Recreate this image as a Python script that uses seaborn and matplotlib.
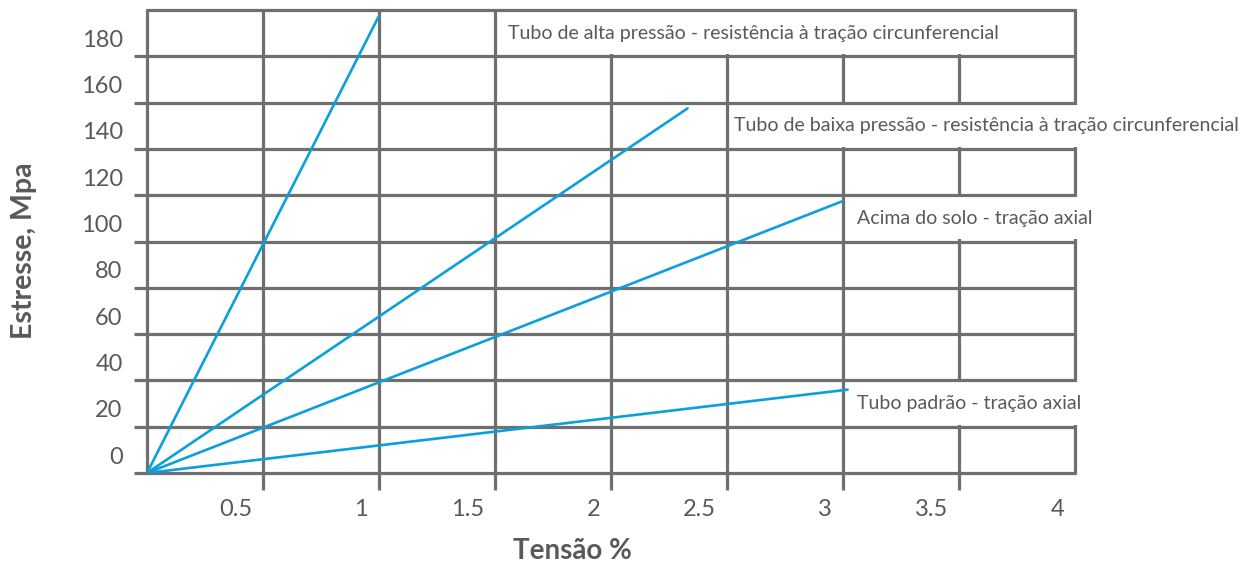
import numpy as np
import pandas as pd
import matplotlib
matplotlib.use("Agg")
import matplotlib.pyplot as plt
from matplotlib.patches import Rectangle
from matplotlib.transforms import ScaledTranslation
import seaborn as sns

# ---------------- data ----------------
series_names = [
    "Tubo de alta pressão - resistência à tração circunferencial",
    "Tubo de baixa pressão - resistência à tração circunferencial",
    "Acima do solo - tração axial",
    "Tubo padrão - tração axial",
]
strain_alta = [0.0, 1.0]
stress_alta = [0.0, 197.5]
strain_baixa = [0.0, 2.33]
stress_baixa = [0.0, 157.5]
strain_solo = [0.0, 3.0]
stress_solo = [0.0, 117.5]
strain_padrao = [0.0, 3.02]
stress_padrao = [0.0, 36.0]

x_ticks = [0.5, 1, 1.5, 2, 2.5, 3, 3.5, 4]
x_tick_labels = ["0.5", "1", "1.5", "2", "2.5", "3", "3.5", "4"]
y_ticks = [0, 20, 40, 60, 80, 100, 120, 140, 160, 180]
y_tick_labels = ["0", "20", "40", "60", "80", "100", "120", "140", "160", "180"]
x_label = "Tensão %"
y_label = "Estresse, Mpa"

# ---------------- layout (annotation placement) ----------------
label_x = [1.555, 2.53, 3.06, 3.06]          # text start
label_row = [180, 140, 100, 20]               # grid row that holds the label
box_x = [(1.5, 4.0), (2.5, 4.8), (3.0, 4.3), (3.0, 4.3)]

GRID = "#6f6f6f"
TXT = "#595959"
BLUE = "#0aa0dc"

sns.set_theme(style="white")
plt.rcParams["font.family"] = ["Lato", "DejaVu Sans"]

frames = []
for name, xs, ys in zip(series_names,
                        [strain_alta, strain_baixa, strain_solo, strain_padrao],
                        [stress_alta, stress_baixa, stress_solo, stress_padrao]):
    frames.append(pd.DataFrame({"serie": name, "tensao": xs, "estresse": ys}))
df = pd.concat(frames, ignore_index=True)

fig = plt.figure(figsize=(12.47, 5.66), dpi=100)
ax = fig.add_axes([147 / 1247, 93 / 566, (1075 - 147) / 1247, (473 - 10) / 566])

sns.lineplot(data=df, x="tensao", y="estresse", hue="serie",
             palette={n: BLUE for n in series_names}, estimator=None,
             sort=False, legend=False, linewidth=1.9, ax=ax, zorder=5)

ax.set_xlim(0, 4)
ax.set_ylim(0, 200)
for s in ax.spines.values():
    s.set_visible(False)
ax.grid(False)

# grid: vertical lines first, white label boxes, then horizontal lines
for xv in [0] + x_ticks:
    ax.axvline(xv, color=GRID, lw=2.3, zorder=1, clip_on=False)
dy = 0.9
dx = 0.017
for (x0, x1), r in zip(box_x, label_row):
    ax.add_patch(Rectangle((x0 + dx, r + dy), (x1 - x0) - 2 * dx, 20 - 2 * dy,
                           facecolor="white", edgecolor="none", zorder=2, clip_on=False))
for yv in y_ticks + [200]:
    ax.axhline(yv, color=GRID, lw=2.3, zorder=3, clip_on=False)

for name, x0, r in zip(series_names, label_x, label_row):
    ax.text(x0, r + 10, name, ha="left", va="center", fontsize=14, color=TXT,
            zorder=6, clip_on=False)

# ticks
ax.set_xticks(x_ticks)
ax.set_xticklabels(x_tick_labels)
ax.set_yticks(y_ticks)
ax.set_yticklabels(y_tick_labels)
ax.tick_params(axis="x", direction="out", length=12, width=2.3, color=GRID,
               labelsize=17, labelcolor=TXT, pad=7, bottom=True)
ax.tick_params(axis="y", direction="out", length=9.5, width=2.3, color=GRID,
               labelsize=17, labelcolor=TXT, pad=8, left=True)
ax.xaxis.get_major_ticks()[-1].tick1line.set_visible(False)

xoff = ScaledTranslation(-0.11, 0, fig.dpi_scale_trans)
for lab in ax.get_xticklabels():
    lab.set_ha("right")
    lab.set_transform(lab.get_transform() + xoff)
yoff = ScaledTranslation(0, 0.18, fig.dpi_scale_trans)
for lab in ax.get_yticklabels():
    lab.set_transform(lab.get_transform() + yoff)

ax.set_xlabel("")
ax.set_ylabel("")
fig.text(572 / 1247, 1 - 551 / 566, x_label, ha="center", va="center",
         fontsize=20, fontweight="bold", color=TXT)
fig.text(24 / 1247, 1 - 251 / 566, y_label, ha="center", va="center",
         rotation=90, fontsize=20.5, fontweight="bold", color=TXT)

fig.savefig("out.png", dpi=100, facecolor="white")
